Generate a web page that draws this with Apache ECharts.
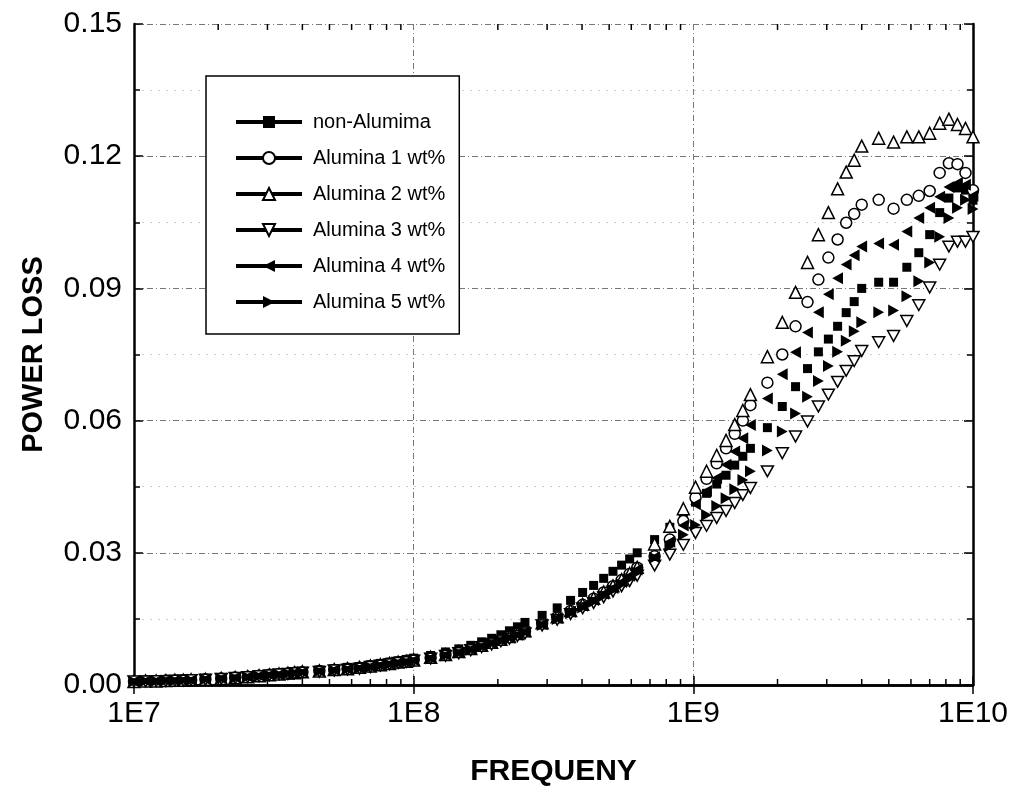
<!DOCTYPE html>
<html>
<head>
<meta charset="utf-8">
<script src="https://cdn.jsdelivr.net/npm/echarts/dist/echarts.min.js"></script>
<style>
html,body{margin:0;padding:0;background:#fff;}
#chart{width:1015px;height:792px;}
</style>
</head>
<body>
<div id="chart"></div>
<script>
// Frequencies (MHz)
const freqMHz = [10,11,12,13,14,15,16,18,20.5,23,25.5,28,30.5,33,35.5,37.5,40,
  46,52,58,64,70,76,82,88,94,100,
  115,130,145,160,175,190,205,220,235,250,
  288,326,364,402,440,478,516,554,592,630,
  727,824,921,1018,1115,1212,1309,1406,1503,1600,
  1840,2080,2320,2560,2800,3040,3280,3520,3760,4000,
  4600,5200,5800,6400,7000,7600,8200,8800,9400,10000];

const seriesNames = ['non-Alumima','Alumina 1 wt%','Alumina 2 wt%','Alumina 3 wt%','Alumina 4 wt%','Alumina 5 wt%'];

const nonAlumina = [0.0009,0.0010,0.0010,0.0011,0.0011,0.0012,0.0012,0.0014,0.0016,0.0018,0.0020,0.0022,0.0024,0.0026,0.0028,0.0030,0.0031,
  0.0034,0.0037,0.0040,0.0042,0.0046,0.0049,0.0052,0.0055,0.0058,0.0061,
  0.0067,0.0075,0.0082,0.0090,0.0098,0.0106,0.0114,0.0123,0.0132,0.0142,
  0.0158,0.0175,0.0192,0.0210,0.0226,0.0242,0.0258,0.0272,0.0286,0.0300,
  0.0330,0.0358,0.0386,0.0415,0.0435,0.0456,0.0476,0.0499,0.0519,0.0537,
  0.0584,0.0632,0.0677,0.0718,0.0756,0.0785,0.0814,0.0845,0.0870,0.0900,
  0.0914,0.0914,0.0948,0.0981,0.1022,0.1072,0.1105,0.1128,0.1123,0.1100];

const alumina1 = [0.0008,0.0009,0.0009,0.0010,0.0010,0.0011,0.0011,0.0013,0.0015,0.0017,0.0019,0.0021,0.0023,0.0025,0.0026,0.0028,0.0029,
  0.0032,0.0034,0.0037,0.0039,0.0042,0.0045,0.0048,0.0051,0.0054,0.0057,
  0.0062,0.0069,0.0075,0.0082,0.0089,0.0096,0.0103,0.0110,0.0116,0.0122,
  0.0140,0.0154,0.0168,0.0182,0.0196,0.0210,0.0224,0.0238,0.0252,0.0266,
  0.0292,0.0330,0.0372,0.0425,0.0468,0.0503,0.0537,0.0570,0.0600,0.0635,
  0.0686,0.0750,0.0814,0.0869,0.0920,0.0970,0.1011,0.1049,0.1069,0.1090,
  0.1101,0.1081,0.1101,0.1110,0.1121,0.1162,0.1184,0.1182,0.1162,0.1123];

const alumina2 = [0.0008,0.0009,0.0009,0.0010,0.0011,0.0011,0.0012,0.0013,0.0015,0.0017,0.0019,0.0021,0.0023,0.0025,0.0027,0.0028,0.0030,
  0.0032,0.0035,0.0037,0.0040,0.0043,0.0046,0.0049,0.0052,0.0054,0.0057,
  0.0063,0.0069,0.0076,0.0083,0.0090,0.0097,0.0104,0.0110,0.0117,0.0123,
  0.0141,0.0155,0.0169,0.0183,0.0197,0.0211,0.0225,0.0239,0.0253,0.0267,
  0.0320,0.0360,0.0400,0.0449,0.0485,0.0521,0.0555,0.0591,0.0623,0.0659,
  0.0745,0.0823,0.0891,0.0959,0.1022,0.1072,0.1126,0.1164,0.1191,0.1223,
  0.1241,0.1232,0.1244,0.1244,0.1252,0.1275,0.1284,0.1272,0.1263,0.1244];

const alumina3 = [0.0008,0.0008,0.0009,0.0009,0.0010,0.0010,0.0011,0.0012,0.0014,0.0016,0.0018,0.0020,0.0022,0.0024,0.0025,0.0027,0.0028,
  0.0030,0.0033,0.0035,0.0037,0.0041,0.0044,0.0047,0.0050,0.0052,0.0055,
  0.0060,0.0066,0.0072,0.0079,0.0086,0.0092,0.0099,0.0105,0.0111,0.0117,
  0.0135,0.0148,0.0161,0.0174,0.0186,0.0199,0.0212,0.0224,0.0236,0.0248,
  0.0271,0.0296,0.0318,0.0345,0.0361,0.0379,0.0395,0.0413,0.0431,0.0447,
  0.0485,0.0526,0.0564,0.0598,0.0632,0.0659,0.0688,0.0713,0.0735,0.0758,
  0.0778,0.0792,0.0826,0.0862,0.0902,0.0954,0.0995,0.1006,0.1006,0.1017];

const alumina4 = [0.0008,0.0009,0.0009,0.0010,0.0010,0.0011,0.0011,0.0013,0.0015,0.0017,0.0019,0.0021,0.0023,0.0024,0.0026,0.0028,0.0029,
  0.0031,0.0034,0.0036,0.0038,0.0042,0.0045,0.0048,0.0051,0.0053,0.0056,
  0.0061,0.0068,0.0074,0.0081,0.0088,0.0095,0.0102,0.0108,0.0114,0.0120,
  0.0138,0.0152,0.0166,0.0180,0.0193,0.0207,0.0220,0.0234,0.0248,0.0262,
  0.0290,0.0325,0.0362,0.0410,0.0440,0.0470,0.0500,0.0530,0.0560,0.0590,
  0.0650,0.0705,0.0755,0.0800,0.0846,0.0887,0.0923,0.0954,0.0975,0.0995,
  0.1002,0.0999,0.1029,0.1060,0.1083,0.1108,0.1130,0.1139,0.1135,0.1110];

const alumina5 = [0.0008,0.0009,0.0009,0.0010,0.0010,0.0011,0.0011,0.0013,0.0015,0.0016,0.0018,0.0020,0.0022,0.0024,0.0026,0.0027,0.0029,
  0.0031,0.0033,0.0036,0.0038,0.0041,0.0044,0.0047,0.0050,0.0053,0.0055,
  0.0060,0.0067,0.0073,0.0080,0.0087,0.0094,0.0100,0.0107,0.0113,0.0119,
  0.0136,0.0150,0.0163,0.0176,0.0189,0.0202,0.0215,0.0228,0.0241,0.0255,
  0.0289,0.0315,0.0341,0.0363,0.0386,0.0406,0.0424,0.0444,0.0465,0.0485,
  0.0532,0.0575,0.0616,0.0654,0.0690,0.0724,0.0756,0.0781,0.0803,0.0823,
  0.0846,0.0850,0.0882,0.0916,0.0959,0.1017,0.1060,0.1083,0.1101,0.1080];

const xTickLabels = ['1E7','1E8','1E9','1E10'];
const yTickLabels = ['0.00','0.03','0.06','0.09','0.12','0.15'];

const seriesValues = [nonAlumina, alumina1, alumina2, alumina3, alumina4, alumina5];
const symbols = ['rect','circle','triangle','path://M0,0 L10,0 L5,9 Z','path://M0,5 L9,0 L9,10 Z','path://M0,0 L9,5 L0,10 Z'];
const symbolSizes = [9, 11, 12, 12, 12, 12];
const filled = [true, false, false, false, true, true];

const FONT = 'Liberation Sans, Arial, sans-serif';
const chart = echarts.init(document.getElementById('chart'), null, {renderer: 'canvas'});

const series = seriesValues.map((vals, i) => ({
  name: seriesNames[i],
  type: 'line',
  xAxisIndex: 0, yAxisIndex: 0,
  data: vals.map((v, j) => [freqMHz[j] * 1e6, v]),
  symbol: symbols[i],
  symbolSize: symbolSizes[i],
  symbolKeepAspect: true,
  showSymbol: true,
  showAllSymbol: true,
  lineStyle: {opacity: 0, width: 1, color: '#000'},
  itemStyle: filled[i] ? {color: '#000', borderColor: '#000', borderWidth: 0}
                       : {color: '#fff', borderColor: '#000', borderWidth: 1.5},
  emphasis: {disabled: true},
  animation: false,
  z: 3
}));

// log minor ticks (2..9 within each decade), drawn on bottom and top axes
const decadeStarts = [1e7, 1e8, 1e9];
const minorTickVals = [];
decadeStarts.forEach(d => { for (let k = 2; k <= 9; k++) minorTickVals.push([k * d, 0]); });

series.push({
  type: 'custom',
  name: 'minorTicks',
  xAxisIndex: 0, yAxisIndex: 0,
  silent: true,
  clip: false,
  data: minorTickVals,
  renderItem: function (params, api) {
    const v = api.value(0);
    const pb = api.coord([v, 0]);
    const pt = api.coord([v, 0.15]);
    const st = {stroke: '#000', lineWidth: 1.5};
    return {
      type: 'group',
      children: [
        {type: 'line', shape: {x1: pb[0], y1: pb[1], x2: pb[0], y2: pb[1] - 6}, style: st},
        {type: 'line', shape: {x1: pt[0], y1: pt[1], x2: pt[0], y2: pt[1] + 6}, style: st}
      ]
    };
  },
  z: 5
});

const axisLineStyle = {color: '#000', width: 2.5};

const option = {
  backgroundColor: '#fff',
  animation: false,
  grid: {left: 134, right: 42, top: 24, bottom: 104, containLabel: false},
  legend: {
    data: seriesNames,
    orient: 'vertical',
    left: 206, top: 76,
    padding: [35, 14, 21, 28],
    itemGap: 14,
    itemWidth: 66,
    itemHeight: 15,
    borderColor: '#000',
    borderWidth: 1.5,
    backgroundColor: '#fff',
    selectedMode: false,
    lineStyle: {color: '#000', width: 4, opacity: 1, type: 'solid'},
    textStyle: {fontFamily: FONT, fontSize: 20, color: '#000', lineHeight: 22, padding: [0, 0, 0, 6]}
  },
  xAxis: [{
    type: 'log', logBase: 10, min: 1e7, max: 1e10,
    position: 'bottom',
    name: 'FREQUENY', nameLocation: 'middle', nameGap: 72,
    nameTextStyle: {fontFamily: FONT, fontSize: 30, fontWeight: 'bold', color: '#000'},
    axisLine: {show: true, lineStyle: axisLineStyle},
    axisTick: {show: true, inside: true, length: 9, lineStyle: {color: '#000', width: 1.5}},
    axisLabel: {fontFamily: FONT, fontSize: 30, color: '#000', margin: 14,
      formatter: v => xTickLabels[Math.round(Math.log10(v)) - 7]},
    splitLine: {show: true, lineStyle: {color: '#777', width: 1, type: [6, 3, 1, 3]}}
  }, {
    type: 'log', logBase: 10, min: 1e7, max: 1e10,
    position: 'top',
    axisLine: {show: true, lineStyle: axisLineStyle},
    axisTick: {show: true, inside: true, length: 9, lineStyle: {color: '#000', width: 1.5}},
    axisLabel: {show: false},
    splitLine: {show: false}
  }],
  yAxis: [{
    type: 'value', min: 0, max: 0.15, interval: 0.03,
    position: 'left',
    name: 'POWER LOSS', nameLocation: 'middle', nameGap: 86, nameRotate: 90,
    nameTextStyle: {fontFamily: FONT, fontSize: 29, fontWeight: 'bold', color: '#000'},
    axisLine: {show: true, lineStyle: axisLineStyle},
    axisTick: {show: true, inside: true, length: 9, lineStyle: {color: '#000', width: 1.5}},
    minorTick: {show: true, splitNumber: 2, length: 6, lineStyle: {color: '#000', width: 1.5}},
    axisLabel: {fontFamily: FONT, fontSize: 30, color: '#000', margin: 12,
      formatter: v => yTickLabels[Math.round(v / 0.03)]},
    splitLine: {show: true, lineStyle: {color: '#777', width: 1, type: [6, 3, 1, 3]}},
    minorSplitLine: {show: true, lineStyle: {color: '#ccc', width: 1, type: [2, 6]}}
  }, {
    type: 'value', min: 0, max: 0.15, interval: 0.03,
    position: 'right',
    axisLine: {show: true, lineStyle: axisLineStyle},
    axisTick: {show: true, inside: true, length: 9, lineStyle: {color: '#000', width: 1.5}},
    minorTick: {show: true, splitNumber: 2, length: 6, lineStyle: {color: '#000', width: 1.5}},
    axisLabel: {show: false},
    splitLine: {show: false}
  }],
  series: series
};
chart.setOption(option);
</script>
</body>
</html>
